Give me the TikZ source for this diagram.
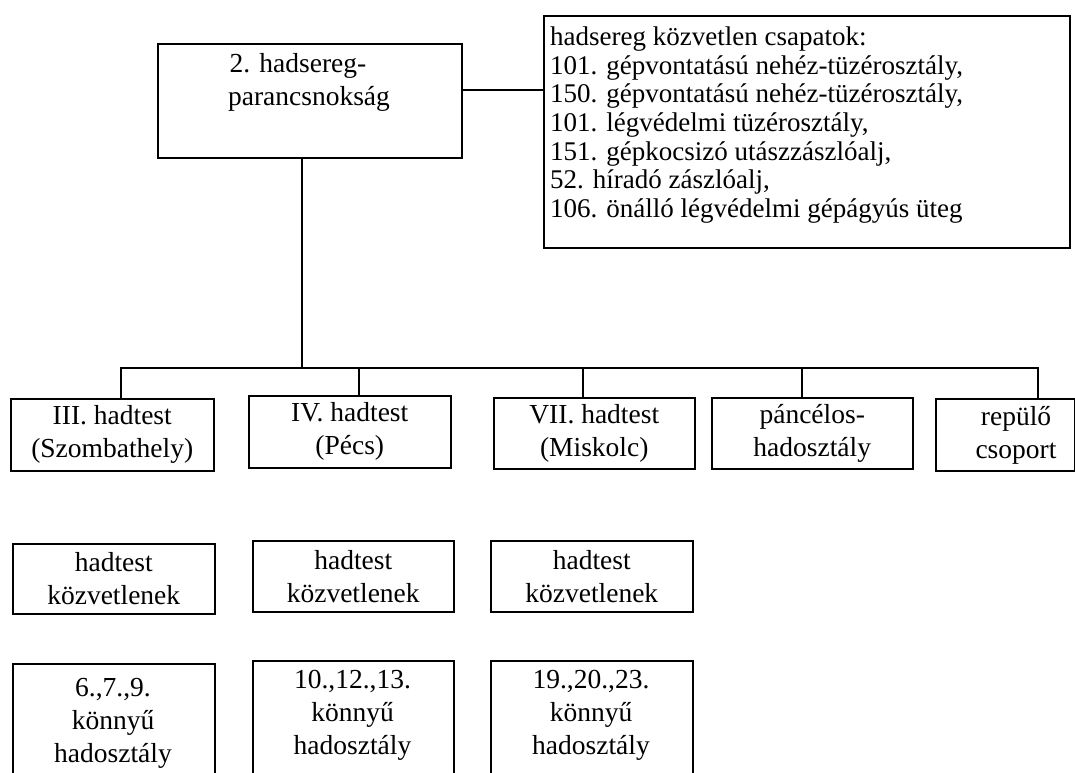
\documentclass[tikz,border=0pt]{standalone}
\usepackage{fontspec}
\setmainfont{Liberation Serif}
\newcommand{\fsA}{\fontsize{27.5pt}{33pt}\selectfont}
\newcommand{\fsB}{\fontsize{27pt}{28.7pt}\selectfont}
\begin{document}
\begin{tikzpicture}[x=1pt,y=-1pt,
  box/.style={draw, line width=1.5pt, inner sep=0pt, anchor=north west},
  lbl/.style={font=\fsA, align=center, inner sep=0pt},
  conn/.style={line width=1.5pt}]
\useasboundingbox (0,0) rectangle (1075,772);
\clip (0,0) rectangle (1075,772);
% boxes
\node[box, minimum width=304pt, minimum height=114pt] (hq) at (157,43) {};
\node[box, minimum width=526pt, minimum height=232pt] (troops) at (543,15) {};
\node[box, minimum width=203pt, minimum height=72pt] (III) at (10,398) {};
\node[box, minimum width=202pt, minimum height=72pt] (IV) at (248,395) {};
\node[box, minimum width=201pt, minimum height=71pt] (VII) at (493,397) {};
\node[box, minimum width=201pt, minimum height=71pt] (pan) at (711,397) {};
\node[box, minimum width=139pt, minimum height=72pt] (rep) at (935,398) {};
\node[box, minimum width=202pt, minimum height=70pt] (k1) at (12,543) {};
\node[box, minimum width=201pt, minimum height=71pt] (k2) at (252,540) {};
\node[box, minimum width=202pt, minimum height=71pt] (k3) at (490,540) {};
\node[box, minimum width=202pt, minimum height=140pt] (d1) at (12,663) {};
\node[box, minimum width=201pt, minimum height=140pt] (d2) at (252,660) {};
\node[box, minimum width=202pt, minimum height=140pt] (d3) at (490,660) {};
% labels
\node[lbl, anchor=north] (hqt) at (309,53.5) {2. hadsereg-\hspace*{22pt}\\parancsnokság};
\node[lbl, font=\fsB, align=left, anchor=north west] (troopst) at (550,26.5)
  {hadsereg közvetlen csapatok:\\101. gépvontatású nehéz-tüzérosztály,\\150. gépvontatású nehéz-tüzérosztály,\\101. légvédelmi tüzérosztály,\\151. gépkocsizó utászzászlóalj,\\52. híradó zászlóalj,\\106. önálló légvédelmi gépágyús üteg};
\node[lbl] (IIIt) at (III.center) {III. hadtest\\(Szombathely)};
\node[lbl] (IVt) at (IV.center) {IV. hadtest\\(Pécs)};
\node[lbl] (VIIt) at (VII.center) {VII. hadtest\\(Miskolc)};
\node[lbl] (pant) at (pan.center) {páncélos-\\hadosztály};
\node[lbl] (rept) at (1016,435) {repülő\\csoport};
\node[lbl] (k1t) at (k1.center) {hadtest\\közvetlenek};
\node[lbl] (k2t) at (k2.center) {hadtest\\közvetlenek};
\node[lbl] (k3t) at (k3.center) {hadtest\\közvetlenek};
\node[lbl, anchor=north] (d1t) at (113,678) {6.,7.,9.\\könnyű\\hadosztály};
\node[lbl, anchor=north] (d2t) at (352.5,670) {10.,12.,13.\\könnyű\\hadosztály};
\node[lbl, anchor=north] (d3t) at (591,670) {19.,20.,23.\\könnyű\\hadosztály};
% connectors
\coordinate (hqr) at (461,90);
\draw[conn] (hqr) -- (hqr -| troops.west);
\coordinate (bj) at (302,368);
\draw[conn] (hq.south -| bj) -- (bj);
\coordinate (bl) at (121,368);
\coordinate (br) at (1038,368);
\coordinate (tIV) at (359,368);
\coordinate (tVII) at (583,368);
\coordinate (tpan) at (802,368);
\draw[conn] (bl |- III.north) -- (bl) -- (br) -- (br |- rep.north);
\draw[conn] (tIV) -- (tIV |- IV.north);
\draw[conn] (tVII) -- (tVII |- VII.north);
\draw[conn] (tpan) -- (tpan |- pan.north);
\end{tikzpicture}
\end{document}
